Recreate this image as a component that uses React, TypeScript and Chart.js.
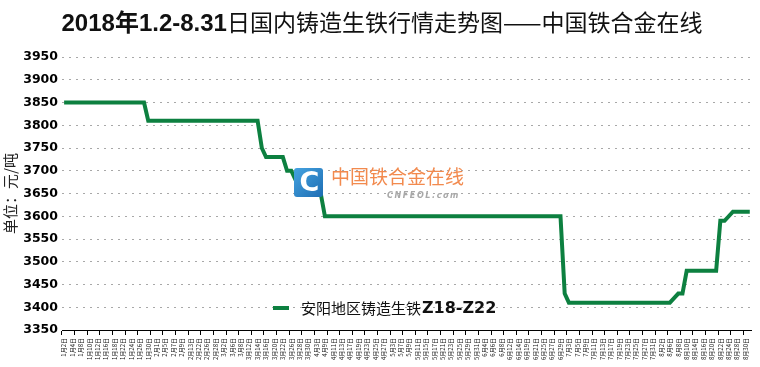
import React, { useEffect, useRef } from 'react';
import { Chart, registerables } from 'chart.js';

Chart.register(...registerables);

// Trading days (day numbers) for each month of 2018
const janDays = [2, 3, 4, 5, 8, 9, 10, 11, 12, 15, 16, 17, 18, 19, 22, 23, 24, 25, 26, 29, 30, 31];
const febDays = [1, 2, 5, 6, 7, 8, 9, 12, 13, 14, 22, 23, 26, 27, 28];
const marDays = [1, 2, 5, 6, 7, 8, 9, 12, 13, 14, 15, 16, 19, 20, 21, 22, 23, 26, 27, 28, 29, 30];
const aprDays = [2, 3, 4, 9, 10, 11, 12, 13, 16, 17, 18, 19, 20, 23, 24, 25, 26, 27];
const mayDays = [2, 3, 4, 7, 8, 9, 10, 11, 14, 15, 16, 17, 18, 21, 22, 23, 24, 25, 28, 29, 30, 31];
const junDays = [1, 4, 5, 6, 7, 8, 11, 12, 13, 14, 15, 19, 20, 21, 22, 25, 26, 27, 28, 29];
const julDays = [2, 3, 4, 5, 6, 9, 10, 11, 12, 13, 16, 17, 18, 19, 20, 23, 24, 25, 26, 27, 30, 31];
const augDays = [1, 2, 3, 6, 7, 8, 9, 10, 13, 14, 15, 16, 17, 20, 21, 22, 23, 24, 27, 28, 29, 30, 31];

// Prices (元/吨) for each trading day, month by month
const janPrices = [3850, 3850, 3850, 3850, 3850, 3850, 3850, 3850, 3850, 3850, 3850, 3850, 3850, 3850, 3850, 3850, 3850, 3850, 3850, 3850, 3810, 3810];
const febPrices = [3810, 3810, 3810, 3810, 3810, 3810, 3810, 3810, 3810, 3810, 3810, 3810, 3810, 3810, 3810];
const marPrices = [3810, 3810, 3810, 3810, 3810, 3810, 3810, 3810, 3810, 3810, 3750, 3730, 3730, 3730, 3730, 3730, 3700, 3700, 3680, 3680, 3680, 3680];
const aprPrices = [3680, 3680, 3650, 3600, 3600, 3600, 3600, 3600, 3600, 3600, 3600, 3600, 3600, 3600, 3600, 3600, 3600, 3600];
const mayPrices = [3600, 3600, 3600, 3600, 3600, 3600, 3600, 3600, 3600, 3600, 3600, 3600, 3600, 3600, 3600, 3600, 3600, 3600, 3600, 3600, 3600, 3600];
const junPrices = [3600, 3600, 3600, 3600, 3600, 3600, 3600, 3600, 3600, 3600, 3600, 3600, 3600, 3600, 3600, 3600, 3600, 3600, 3600, 3600];
const julPrices = [3430, 3410, 3410, 3410, 3410, 3410, 3410, 3410, 3410, 3410, 3410, 3410, 3410, 3410, 3410, 3410, 3410, 3410, 3410, 3410, 3410, 3410];
const augPrices = [3410, 3410, 3410, 3410, 3420, 3430, 3430, 3480, 3480, 3480, 3480, 3480, 3480, 3480, 3480, 3590, 3590, 3600, 3610, 3610, 3610, 3610, 3610];

const monthDays = [janDays, febDays, marDays, aprDays, mayDays, junDays, julDays, augDays];
const categories = monthDays.flatMap((days, m) => days.map((d) => `${m + 1}月${d}日`));
const prices = [...janPrices, ...febPrices, ...marPrices, ...aprPrices, ...mayPrices, ...junPrices, ...julPrices, ...augPrices];

const yMin = 3350;
const yMax = 3950;
const yStep = 50;

const titleBold = '2018年1.2-8.31';
const titleRest = '日国内铸造生铁行情走势图——中国铁合金在线';
const yAxisTitle = '单位：元/吨';
const seriesName = '安阳地区铸造生铁';
const seriesGrade = 'Z18-Z22';
const watermarkCn = '中国铁合金在线';
const watermarkEn = 'CNFEOL.com';

const LINE_COLOR = '#0d8040';
const CJK = "'Noto Sans CJK SC', 'Noto Sans', sans-serif";

const decorPlugin = {
  id: 'decor',
  afterDatasetsDraw(chart: any) {
    const ctx = chart.ctx as CanvasRenderingContext2D;
    ctx.save();
    // watermark logo
    const lx = 294, ly = 168, ls = 29, r = 3;
    const grad = ctx.createLinearGradient(lx, ly, lx + ls, ly + ls);
    grad.addColorStop(0, '#45a3e0');
    grad.addColorStop(1, '#1d6db3');
    ctx.beginPath();
    ctx.moveTo(lx + r, ly);
    ctx.lineTo(lx + ls - r, ly);
    ctx.quadraticCurveTo(lx + ls, ly, lx + ls, ly + r);
    ctx.lineTo(lx + ls, ly + ls - r);
    ctx.quadraticCurveTo(lx + ls, ly + ls, lx + ls - r, ly + ls);
    ctx.lineTo(lx + r, ly + ls);
    ctx.quadraticCurveTo(lx, ly + ls, lx, ly + ls - r);
    ctx.lineTo(lx, ly + r);
    ctx.quadraticCurveTo(lx, ly, lx + r, ly);
    ctx.closePath();
    ctx.fillStyle = grad;
    ctx.fill();
    ctx.fillStyle = '#ffffff';
    ctx.font = "bold 27px 'DejaVu Sans', sans-serif";
    ctx.textAlign = 'center';
    ctx.textBaseline = 'middle';
    ctx.fillText('C', lx + ls / 2 + 1, ly + ls / 2 + 1);
    // watermark texts
    ctx.textAlign = 'left';
    ctx.fillStyle = '#f28a4e';
    ctx.font = `19px ${CJK}`;
    ctx.fillText(watermarkCn, 331, 177);
    ctx.fillStyle = '#a8a8a8';
    ctx.font = "italic bold 8px 'DejaVu Sans', sans-serif";
    let ex = 387;
    for (const ch of watermarkEn) {
      ctx.fillText(ch, ex, 196);
      ex += ctx.measureText(ch).width + 1.6;
    }
    ctx.restore();
  },
  afterDraw(chart: any) {
    const ctx = chart.ctx as CanvasRenderingContext2D;
    ctx.save();
    // title
    ctx.textBaseline = 'alphabetic';
    ctx.textAlign = 'left';
    const boldFont = `bold 24px 'Liberation Sans Narrow', 'Arial Narrow', 'Liberation Sans', ${CJK}`;
    const restFont = `23px ${CJK}`;
    ctx.font = boldFont;
    const w1 = ctx.measureText(titleBold).width;
    ctx.font = restFont;
    const w2 = ctx.measureText(titleRest).width;
    const tx = 382 - (w1 + w2) / 2;
    ctx.fillStyle = '#111';
    ctx.font = boldFont;
    ctx.fillText(titleBold, tx, 31);
    ctx.font = restFont;
    ctx.fillText(titleRest, tx + w1, 31);
    // legend
    const ly = 308;
    ctx.strokeStyle = LINE_COLOR;
    ctx.lineWidth = 4;
    ctx.beginPath();
    ctx.moveTo(273, ly);
    ctx.lineTo(289, ly);
    ctx.stroke();
    ctx.textBaseline = 'middle';
    ctx.fillStyle = '#111';
    ctx.font = `15px ${CJK}`;
    ctx.fillText(seriesName, 301, ly);
    const wn = ctx.measureText(seriesName).width;
    ctx.font = "bold 16px 'DejaVu Sans', sans-serif";
    ctx.fillText(seriesGrade, 301 + wn + 1, ly + 1);
    ctx.restore();
  },
};

export default function App() {
  const ref = useRef<HTMLCanvasElement>(null);
  useEffect(() => {
    const canvas = ref.current;
    if (!canvas) return;
    const chart = new Chart(canvas, {
      type: 'line',
      data: {
        labels: categories,
        datasets: [
          {
            label: seriesName + seriesGrade,
            data: prices,
            borderColor: LINE_COLOR,
            backgroundColor: LINE_COLOR,
            borderWidth: 4,
            pointRadius: 0,
            tension: 0,
            fill: false,
          },
        ],
      },
      options: {
        responsive: false,
        animation: false,
        events: [],
        layout: { padding: { top: 57, right: 5, left: 0, bottom: 0 } },
        plugins: {
          legend: { display: false },
          title: { display: false },
          tooltip: { enabled: false },
        },
        scales: {
          x: {
            type: 'category',
            offset: true,
            grid: {
              offset: true,
              drawOnChartArea: false,
              drawTicks: true,
              tickLength: 5,
              tickWidth: 1,
              tickColor: (c: any) => (c.index !== undefined && c.index % 3 === 0 ? '#000' : 'rgba(0,0,0,0)'),
            },
            border: { display: true, color: '#000', width: 1 },
            ticks: {
              autoSkip: false,
              minRotation: 90,
              maxRotation: 90,
              padding: 3,
              color: '#111',
              font: { size: 6, family: CJK },
              callback: (_v: any, i: number) => (i % 2 === 0 ? categories[i] : ''),
            },
            afterFit: (s: any) => {
              s.height = 37;
            },
          },
          y: {
            min: yMin,
            max: yMax,
            ticks: {
              stepSize: yStep,
              padding: 4,
              color: '#000',
              font: { size: 12.5, weight: 'bold', family: "'DejaVu Sans', sans-serif" },
              callback: (v: any) => String(v),
            },
            grid: {
              drawTicks: false,
              lineWidth: 1,
              color: (c: any) => (c.tick && c.tick.value === yMin ? 'rgba(0,0,0,0)' : '#a8a8a8'),
            },
            border: { display: false, dash: [2, 5] },
            title: {
              display: true,
              text: yAxisTitle,
              color: '#222',
              font: { size: 15, family: CJK },
              padding: { top: 1, bottom: 0 },
            },
            afterFit: (s: any) => {
              s.width = 62;
            },
          },
        },
      },
      plugins: [decorPlugin],
    } as any);
    return () => chart.destroy();
  }, []);
  return (
    <div style={{ position: 'fixed', left: 0, top: 0, width: 760, height: 367, background: '#fff' }}>
      <canvas ref={ref} width={760} height={367} style={{ display: 'block', width: 760, height: 367 }} />
    </div>
  );
}
